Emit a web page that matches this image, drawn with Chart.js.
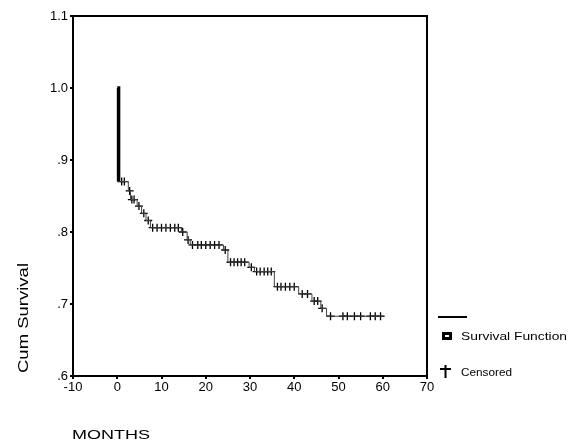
<!DOCTYPE html>
<html>
<head>
<meta charset="utf-8">
<script src="https://cdn.jsdelivr.net/npm/chart.js@4"></script>
<style>
  body { margin: 0; background: #fff; }
  #wrap { width: 584px; height: 446px; }
</style>
</head>
<body>
<div id="wrap"><canvas id="chart" width="584" height="446"></canvas></div>
<script>
// survival function (event times in months, cumulative survival after the event)
const eventMonths = [0, 0.3, 2.5, 3.0, 4.5, 5.5, 6.5, 7.5, 14.5, 15.8, 16.5, 24.0, 25.0, 29.8, 31.0, 35.5, 41.0, 44.0, 46.0, 47.3, 60.2];
const survival = [1.0, 0.870, 0.857, 0.845, 0.836, 0.826, 0.816, 0.806, 0.800, 0.789, 0.782, 0.775, 0.758, 0.751, 0.745, 0.724, 0.714, 0.704, 0.694, 0.683, 0.683];

// censored cases
const censMonths = [1.0, 1.6, 2.8, 3.3, 3.8, 4.9, 6.0, 7.0,
  8.0, 9.0, 10.0, 11.0, 12.0, 13.0, 13.8, 14.8, 16.0,
  17.0, 18.2, 19.0, 20.0, 21.0, 22.0, 23.0, 24.4,
  25.6, 26.4, 27.2, 28.0, 28.8, 30.3,
  31.5, 32.3, 33.2, 34.0, 34.8,
  36.2, 37.0, 38.0, 39.0, 40.0, 41.8, 43.0, 44.5, 45.3, 46.3,
  48.2, 51.0, 52.0, 53.6, 55.0, 57.2, 58.3, 59.5];
const censSurvival = [0.870, 0.870, 0.857, 0.845, 0.845, 0.836, 0.826, 0.816,
  0.806, 0.806, 0.806, 0.806, 0.806, 0.806, 0.806, 0.800, 0.789,
  0.782, 0.782, 0.782, 0.782, 0.782, 0.782, 0.782, 0.775,
  0.758, 0.758, 0.758, 0.758, 0.758, 0.751,
  0.745, 0.745, 0.745, 0.745, 0.745,
  0.724, 0.724, 0.724, 0.724, 0.724, 0.714, 0.714, 0.704, 0.704, 0.694,
  0.683, 0.683, 0.683, 0.683, 0.683, 0.683, 0.683, 0.683];

const xTicks = [-10, 0, 10, 20, 30, 40, 50, 60, 70];
const yTicks = [0.6, 0.7, 0.8, 0.9, 1.0, 1.1];
const yLabels = ['.6', '.7', '.8', '.9', '1.0', '1.1'];

const FONT = 'Liberation Sans, Arial, sans-serif';

// text stretched to a given width (the scanned font is wider than Arial)
function wideText(c, text, x, y, size, width, angle) {
  c.save();
  c.font = size + 'px ' + FONT;
  const w = c.measureText(text).width;
  c.translate(x, y);
  if (angle) c.rotate(angle);
  c.scale(width / w, 1);
  c.fillText(text, 0, 0);
  c.restore();
}

// frame, axis titles and legend drawn by hand like the SPSS output
const extras = {
  id: 'extras',
  afterDraw(chart) {
    const c = chart.ctx;
    const a = chart.chartArea;
    c.save();
    c.strokeStyle = '#000';
    c.lineWidth = 2;
    c.strokeRect(a.left, a.top, a.right - a.left, a.bottom - a.top);

    c.fillStyle = '#000';
    c.textBaseline = 'middle';
    c.textAlign = 'left';
    wideText(c, 'MONTHS', 72, 435, 13, 78);
    c.textAlign = 'center';
    wideText(c, 'Cum Survival', 24, 318, 14, 110, -Math.PI / 2);
    c.textAlign = 'left';

    // legend
    c.lineWidth = 2;
    c.beginPath();
    c.moveTo(438, 317);
    c.lineTo(467, 317);
    c.stroke();
    c.fillRect(442, 332, 10, 8);
    c.fillStyle = '#fff';
    c.fillRect(445, 335, 4, 2);
    c.fillStyle = '#000';
    c.lineWidth = 2;
    c.beginPath();
    c.moveTo(440, 369); c.lineTo(451, 369);
    c.moveTo(445.5, 365); c.lineTo(445.5, 378);
    c.stroke();
    wideText(c, 'Survival Function', 461, 337, 11, 106);
    wideText(c, 'Censored', 461, 373, 11, 51);
    c.restore();
  }
};

new Chart(document.getElementById('chart'), {
  type: 'scatter',
  data: {
    datasets: [{
      label: 'Survival Function',
      type: 'line',
      data: eventMonths.map((m, i) => ({ x: m, y: survival[i] })),
      stepped: 'before',
      borderColor: '#444',
      borderWidth: 1,
      pointRadius: 0,
      fill: false,
      segment: {
        borderWidth: ctx => (ctx.p0.parsed.y - ctx.p1.parsed.y > 0.05 ? 3.5 : 1),
        borderColor: ctx => (ctx.p0.parsed.y - ctx.p1.parsed.y > 0.05 ? '#000' : '#444')
      }
    }, {
      label: 'Censored',
      data: censMonths.map((m, i) => ({ x: m, y: censSurvival[i] })),
      pointStyle: 'cross',
      pointRadius: 4,
      borderColor: '#000',
      borderWidth: 1.3,
      backgroundColor: '#000'
    }]
  },
  options: {
    responsive: false,
    animation: false,
    layout: { padding: { left: 0, right: 157, top: 16, bottom: 0 } },
    plugins: { legend: { display: false }, tooltip: { enabled: false } },
    scales: {
      x: {
        type: 'linear',
        min: -10,
        max: 70,
        afterBuildTicks: s => { s.ticks = xTicks.map(v => ({ value: v })); },
        afterFit: s => { s.height = 70; },
        grid: { display: true, drawOnChartArea: false, tickLength: 3, color: '#000', lineWidth: 2 },
        border: { color: '#000', width: 2 },
        ticks: { color: '#000', font: { family: FONT, size: 13 }, padding: 1, maxRotation: 0 }
      },
      y: {
        min: 0.6,
        max: 1.1,
        afterBuildTicks: s => { s.ticks = yTicks.map(v => ({ value: v })); },
        afterFit: s => { s.width = 73; },
        grid: { display: true, drawOnChartArea: false, tickLength: 3, color: '#000', lineWidth: 2 },
        border: { color: '#000', width: 2 },
        ticks: {
          color: '#000',
          font: { family: FONT, size: 13 },
          padding: 2,
          callback: v => yLabels[yTicks.findIndex(t => Math.abs(t - v) < 1e-6)]
        }
      }
    }
  },
  plugins: [extras]
});
</script>
</body>
</html>
